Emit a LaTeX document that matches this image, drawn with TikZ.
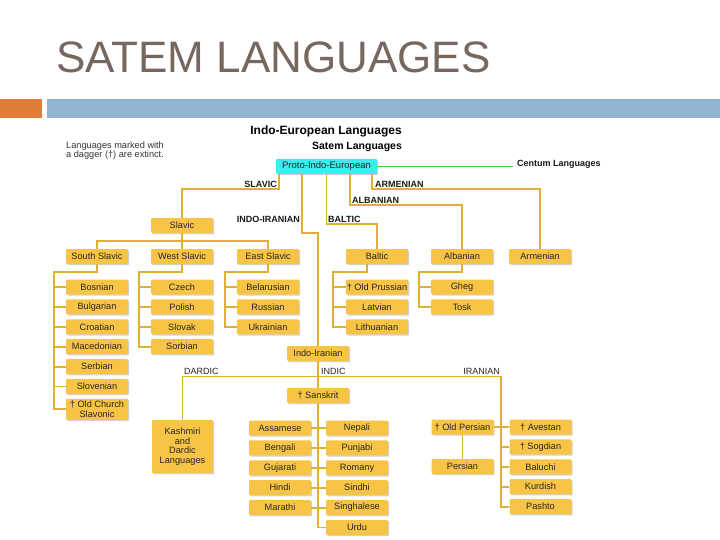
\documentclass[tikz,border=0pt]{standalone}
\usepackage{fontspec}
\setmainfont{Liberation Sans}
\usepackage{xcolor}
\usetikzlibrary{positioning,shadows}
\definecolor{langgold}{HTML}{F8C445}
\definecolor{linkgold}{HTML}{DEB036}
\definecolor{linkgreen}{HTML}{48CC48}
\definecolor{protocyan}{HTML}{38EEEE}
\definecolor{titlegray}{HTML}{76675F}
\definecolor{barorange}{HTML}{E07B3A}
\definecolor{barblue}{HTML}{94B4D4}
\tikzset{
  lang/.style={fill=langgold, text=black!85, rounded corners=1pt, minimum width=62pt,
               minimum height=15pt, inner sep=1pt, align=center,
               font=\fontsize{9.2}{10}\selectfont,
               drop shadow={shadow xshift=1.2pt, shadow yshift=-1.2pt, opacity=0.35}},
  branch/.style={font=\fontsize{9}{9}\selectfont\bfseries, inner sep=0pt, text=black!90},
  subbranch/.style={font=\fontsize{9}{9}\selectfont, inner sep=0pt, text=black!85},
  link/.style={draw=linkgold, line width=1.9pt}
}

\begin{document}
\begin{tikzpicture}[x=1pt, y=-1pt, node distance=4.5pt]
\useasboundingbox[fill=white] (0,0) rectangle (720,540);
\node[anchor=base west, inner sep=0pt, text=titlegray, font=\fontsize{44}{44}\selectfont] (title) at (56,73) {SATEM LANGUAGES};
\fill[barorange] (0,99) rectangle (42,118);
\fill[barblue] (47,99) rectangle (720,118);

\node[font=\fontsize{12}{12}\selectfont\bfseries, inner sep=0pt] (ie) at (326,131) {Indo-European Languages};
\node[font=\fontsize{10.5}{10.5}\selectfont\bfseries, inner sep=0pt] (satem) at (357,147) {Satem Languages};
\node[anchor=north west, align=left, inner sep=0pt, text=black!80, font=\fontsize{9.2}{8.8}\selectfont] (note) at (66,142) {Languages marked with\\a dagger (†) are extinct.};

\node[lang, fill=protocyan, minimum width=101pt, font=\fontsize{9.5}{10}\selectfont] (pie) at (326.5,166.5) {Proto-Indo-European};
\node[branch, anchor=base west] (centum) at (517,167) {Centum Languages};
\draw[draw=linkgreen, line width=1.1pt] (pie.east) -- ([xshift=-4pt]pie.east -| centum.west);

\node[lang] (slavic) at (182,225.5) {Slavic};
\node[lang] (sslav) at (97,256.5) {South Slavic};
\node[lang] (wslav) at (182,256.5) {West Slavic};
\node[lang] (eslav) at (268,256.5) {East Slavic};
\node[lang] (baltic) at (377,256.5) {Baltic};
\node[lang] (alban) at (462,256.5) {Albanian};
\node[lang] (armen) at (540,256.5) {Armenian};

\node[lang] (bosn) at (97,287) {Bosnian};
\node[lang, below=of bosn] (bulg) {Bulgarian};
\node[lang, below=of bulg] (croat) {Croatian};
\node[lang, below=of croat] (maced) {Macedonian};
\node[lang, below=of maced] (serb) {Serbian};
\node[lang, below=of serb] (slov) {Slovenian};
\node[lang, below=of slov, minimum height=21pt] (ocs) {† Old Church\\Slavonic};

\node[lang] (czech) at (182,287) {Czech};
\node[lang, below=of czech] (polish) {Polish};
\node[lang, below=of polish] (slovak) {Slovak};
\node[lang, below=of slovak] (sorb) {Sorbian};

\node[lang] (belar) at (268,287) {Belarusian};
\node[lang, below=of belar] (russ) {Russian};
\node[lang, below=of russ] (ukr) {Ukrainian};

\node[lang] (oprus) at (377,287) {† Old Prussian};
\node[lang, below=of oprus] (latv) {Latvian};
\node[lang, below=of latv] (lith) {Lithuanian};

\node[lang] (gheg) at (462,287) {Gheg};
\node[lang, below=of gheg] (tosk) {Tosk};

\node[lang] (indir) at (318,353.5) {Indo-Iranian};
\node[lang] (sansk) at (318,395.5) {† Sanskrit};
\node[lang, minimum width=61pt, minimum height=53pt, font=\fontsize{9.2}{9.5}\selectfont] (kash) at (182.5,446.5) {Kashmiri\\and\\Dardic\\Languages};

\node[lang] (assam) at (280,428) {Assamese};
\node[lang, below=of assam] (beng) {Bengali};
\node[lang, below=of beng] (guja) {Gujarati};
\node[lang, below=of guja] (hindi) {Hindi};
\node[lang, below=of hindi] (mara) {Marathi};
\node[lang] (nepal) at (357,428) {Nepali};
\node[lang, below=of nepal] (punj) {Punjabi};
\node[lang, below=of punj] (roma) {Romany};
\node[lang, below=of roma] (sindh) {Sindhi};
\node[lang, below=of sindh] (singh) {Singhalese};
\node[lang, below=of singh] (urdu) {Urdu};

\node[lang] (oldpers) at (462.5,427) {† Old Persian};
\node[lang] (pers) at (462.5,466.5) {Persian};
\node[lang] (aves) at (540.5,427) {† Avestan};
\node[lang, below=of aves] (sogd) {† Sogdian};
\node[lang, below=of sogd] (baluc) {Baluchi};
\node[lang, below=of baluc] (kurd) {Kurdish};
\node[lang, below=of kurd] (pasht) {Pashto};

\node[branch, anchor=base east] (lslav) at (277,188) {SLAVIC};
\node[branch, anchor=base west] (larm) at (375,188) {ARMENIAN};
\node[branch, anchor=base west] (lalb) at (352,203.5) {ALBANIAN};
\node[branch, anchor=base east] (lindir) at (300,222.5) {INDO-IRANIAN};
\node[branch, anchor=base west] (lbalt) at (328,222.5) {BALTIC};
\node[subbranch, anchor=base west] (ldard) at (184,374.5) {DARDIC};
\node[subbranch, anchor=base west] (lindic) at (321,374.5) {INDIC};
\node[subbranch, anchor=base east] (liran) at (500,374.5) {IRANIAN};

\draw[link] ([xshift=-47.5pt]pie.south) -- ++(0,15) -| (slavic.north);
\draw[link] ([xshift=-24.5pt]pie.south) -- ++(0,59) -| (indir.north);
\draw[link] (pie.south) -- ++(0,50) -| (baltic.north);
\draw[link] ([xshift=23.5pt]pie.south) -- ++(0,31) -| (alban.north);
\draw[link] ([xshift=45.5pt]pie.south) -- ++(0,15) -| (armen.north);

\coordinate (slavbar) at (182,241);
\draw[link] (slavic.south) -- (wslav.north);
\draw[link] (sslav.north) |- (slavbar) -| (eslav.north);

\draw[link] (sslav.south) -- ++(0,8) -| ([xshift=-12pt]ocs.west) -- (ocs.west);
\draw[link] ([xshift=-12pt]bosn.west) -- (bosn.west) ([xshift=-12pt]bulg.west) -- (bulg.west)
  ([xshift=-12pt]croat.west) -- (croat.west) ([xshift=-12pt]maced.west) -- (maced.west)
  ([xshift=-12pt]serb.west) -- (serb.west) ([xshift=-12pt]slov.west) -- (slov.west);
\draw[link] (wslav.south) -- ++(0,8) -| ([xshift=-12pt]sorb.west) -- (sorb.west);
\draw[link] ([xshift=-12pt]czech.west) -- (czech.west) ([xshift=-12pt]polish.west) -- (polish.west)
  ([xshift=-12pt]slovak.west) -- (slovak.west);
\draw[link] (eslav.south) -- ++(0,8) -| ([xshift=-12pt]ukr.west) -- (ukr.west);
\draw[link] ([xshift=-12pt]belar.west) -- (belar.west) ([xshift=-12pt]russ.west) -- (russ.west);
\draw[link] ([xshift=-10pt]baltic.south) -- ++(0,8) -| ([xshift=-13pt]lith.west) -- (lith.west);
\draw[link] ([xshift=-13pt]oprus.west) -- (oprus.west) ([xshift=-13pt]latv.west) -- (latv.west);
\draw[link] (alban.south) -- ++(0,8) -| ([xshift=-12pt]tosk.west) -- (tosk.west);
\draw[link] ([xshift=-12pt]gheg.west) -- (gheg.west);

\coordinate (indicbar) at (318,376.5);
\draw[link] (indir.south) -- (sansk.north);
\draw[link] (kash.north) |- (indicbar) -| ([xshift=-8pt]pasht.west) -- (pasht.west);
\draw[link] (sansk.south) |- (urdu.west);
\draw[link] (assam.east) -- ++(7,0) (beng.east) -- ++(7,0) (guja.east) -- ++(7,0)
  (hindi.east) -- ++(7,0) (mara.east) -- ++(7,0);
\draw[link] (nepal.west) -- ++(-8,0) (punj.west) -- ++(-8,0) (roma.west) -- ++(-8,0)
  (sindh.west) -- ++(-8,0) (singh.west) -- ++(-8,0);
\draw[link] (oldpers.east) -- (aves.west);
\draw[link] (oldpers.south) -- (pers.north);
\draw[link] (sogd.west) -- ++(-8,0) (baluc.west) -- ++(-8,0) (kurd.west) -- ++(-8,0);
\end{tikzpicture}
\end{document}
